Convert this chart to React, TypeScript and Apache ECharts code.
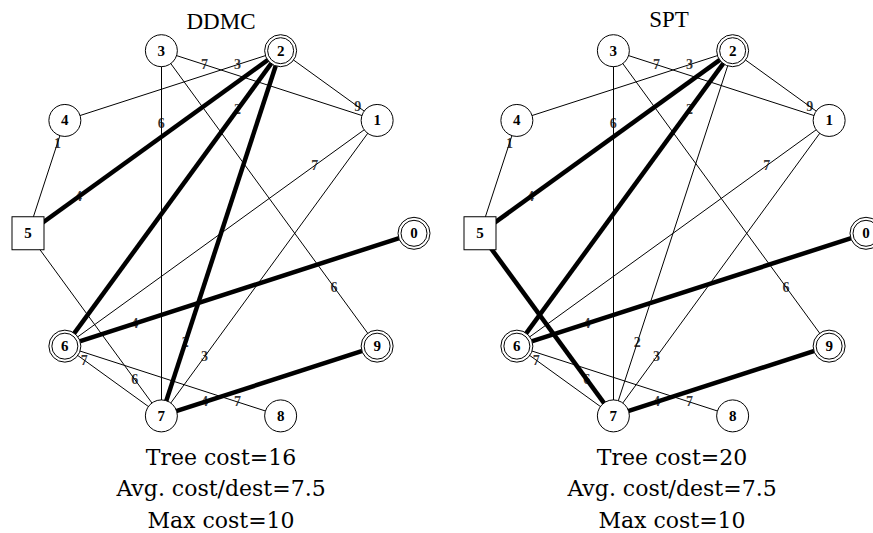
import React, { useEffect, useRef } from 'react';
import * as echarts from 'echarts';

// Network nodes, listed counter-clockwise starting from the east side of the ring.
const NODE_IDS = ['0', '1', '2', '3', '4', '5', '6', '7', '8', '9'];
const SOURCE_NODE = '5';
const DEST_NODES = ['0', '2', '6', '9'];

// Links: [node the cost label sits next to, other node, link cost]
const LINK_FROM = [3, 2, 1, 3, 9, 5, 2, 7, 4, 7, 1, 7, 6, 6, 8, 7];
const LINK_TO = [1, 4, 2, 7, 3, 2, 6, 2, 5, 5, 6, 1, 0, 7, 6, 9];
const LINK_COST = [7, 3, 9, 6, 6, 4, 2, 2, 1, 6, 7, 3, 4, 7, 7, 4];

// Multicast trees chosen by each algorithm
const DDMC_TREE: [number, number][] = [[5, 2], [2, 6], [2, 7], [6, 0], [7, 9]];
const SPT_TREE: [number, number][] = [[5, 2], [2, 6], [5, 7], [6, 0], [7, 9]];

const PANEL_TITLES = ['DDMC', 'SPT'];
const DDMC_SUMMARY = ['Tree cost=16', 'Avg. cost/dest=7.5', 'Max cost=10'];
const SPT_SUMMARY = ['Tree cost=20', 'Avg. cost/dest=7.5', 'Max cost=10'];

const DOUBLE_RING =
  'path://M16 0A16 16 0 1 1 16 32A16 16 0 1 1 16 0ZM16 3A13 13 0 1 1 16 29A13 13 0 1 1 16 3Z';

// Evenly spaced ring layout in unit coordinates
function nodePos(i: number): [number, number] {
  const a = (2 * Math.PI * i) / NODE_IDS.length;
  return [Math.cos(a), Math.sin(a)];
}

function inTree(tree: [number, number][], a: number, b: number) {
  return tree.some(([u, v]) => (u === a && v === b) || (u === b && v === a));
}

function panelSeries(k: number, tree: [number, number][]): any[] {
  const nodes = NODE_IDS.map((id, i) => {
    const isSrc = id === SOURCE_NODE;
    const isDest = DEST_NODES.includes(id);
    return {
      name: id,
      value: nodePos(i),
      symbol: isSrc ? 'rect' : isDest ? DOUBLE_RING : 'circle',
      symbolSize: isSrc ? [32, 33] : 32,
    };
  });
  const links = LINK_FROM.map((a, j) => {
    const b = LINK_TO[j];
    return {
      source: String(a),
      target: String(b),
      lineStyle: { width: inTree(tree, a, b) ? 4.5 : 1 },
    };
  });
  const costLabels = LINK_FROM.map((a, j) => {
    const pa = nodePos(a);
    const pb = nodePos(LINK_TO[j]);
    return [pa[0] + 0.2 * (pb[0] - pa[0]), pa[1] + 0.2 * (pb[1] - pa[1]), LINK_COST[j]];
  });
  return [
    {
      type: 'graph',
      layout: 'none',
      coordinateSystem: 'cartesian2d',
      xAxisIndex: k,
      yAxisIndex: k,
      silent: true,
      z: 2,
      data: nodes,
      links,
      itemStyle: { color: '#ffffff', borderColor: '#000000', borderWidth: 1 },
      lineStyle: { color: '#000000', opacity: 1, curveness: 0 },
      label: {
        show: true,
        position: 'inside',
        color: '#000000',
        textBorderWidth: 0,
        fontFamily: 'Liberation Serif',
        fontWeight: 'bold',
        fontSize: 15,
      },
      emphasis: { disabled: true },
    },
    {
      type: 'scatter',
      xAxisIndex: k,
      yAxisIndex: k,
      silent: true,
      z: 3,
      symbolSize: 1,
      itemStyle: { color: 'transparent' },
      data: costLabels,
      label: {
        show: true,
        position: 'inside',
        color: '#000000',
        textBorderWidth: 0,
        textBorderColor: 'transparent',
        fontFamily: 'Liberation Serif',
        fontWeight: 'bold',
        fontSize: 14,
        formatter: (p: any) => String(p.value[2]),
      },
    },
  ];
}

function summaryTexts(lines: string[], cx: number) {
  return lines.map((t, i) => ({
    type: 'text',
    x: cx,
    y: 457 + i * 31.5,
    silent: true,
    style: {
      text: t,
      fill: '#000000',
      font: '22px "DejaVu Serif"',
      textAlign: 'center',
      textVerticalAlign: 'middle',
    },
  }));
}

export default function App() {
  const ref = useRef<HTMLDivElement>(null);
  useEffect(() => {
    if (!ref.current) return;
    const chart = echarts.init(ref.current, undefined, { renderer: 'svg' });
    const axisBase = { type: 'value', min: -1, max: 1, show: false };
    chart.setOption({
      animation: false,
      backgroundColor: '#ffffff',
      grid: [
        { left: 28, top: 41.3, width: 386, height: 384 },
        { left: 480, top: 41.3, width: 386, height: 384 },
      ],
      xAxis: [
        { ...axisBase, gridIndex: 0 },
        { ...axisBase, gridIndex: 1 },
      ],
      yAxis: [
        { ...axisBase, gridIndex: 0 },
        { ...axisBase, gridIndex: 1 },
      ],
      graphic: [
        {
          type: 'text',
          x: 221,
          y: 21.5,
          silent: true,
          style: {
            text: PANEL_TITLES[0],
            fill: '#000000',
            font: '23px "Liberation Serif"',
            textAlign: 'center',
            textVerticalAlign: 'middle',
          },
        },
        {
          type: 'text',
          x: 669,
          y: 19.5,
          silent: true,
          style: {
            text: PANEL_TITLES[1],
            fill: '#000000',
            font: '23px "Liberation Serif"',
            textAlign: 'center',
            textVerticalAlign: 'middle',
          },
        },
        ...summaryTexts(DDMC_SUMMARY, 221),
        ...summaryTexts(SPT_SUMMARY, 672),
      ],
      series: [...panelSeries(0, DDMC_TREE), ...panelSeries(1, SPT_TREE)],
    });
    return () => chart.dispose();
  }, []);
  return (
    <div
      ref={ref}
      style={{ position: 'fixed', left: 0, top: 0, width: 873, height: 533, background: '#fff' }}
    />
  );
}
